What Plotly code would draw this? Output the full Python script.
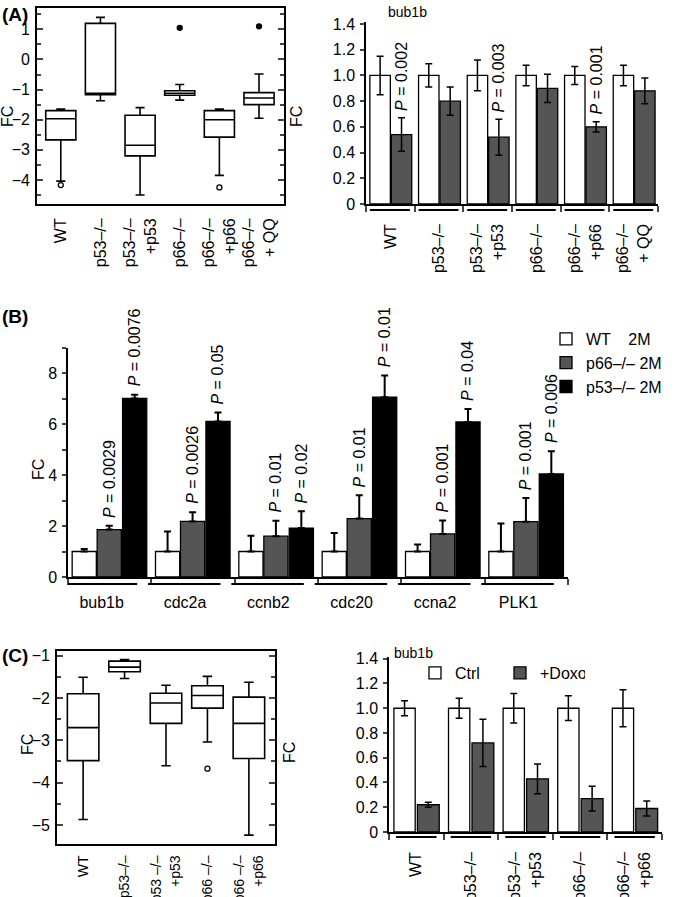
import plotly.graph_objects as go

W, H = 675, 897
FONT = "Liberation Sans, Arial, Helvetica, sans-serif"
D = "\u2013"
DG = "#555555"

# ---------------- Panel A (left): box plot ----------------
a_box_labels = ["WT", f"p53{D}/{D}", f"p53{D}/{D}<br>+p53", f"p66{D}/{D}",
                f"p66{D}/{D}<br>+p66", f"p66{D}/{D}<br>+ QQ"]
a_box_upper = [-1.65, 1.40, -1.60, -0.83, -1.65, -0.48]
a_box_q3 = [-1.70, 1.20, -1.85, -1.04, -1.70, -1.10]
a_box_median = [-1.97, -1.12, -2.85, -1.12, -2.00, -1.28]
a_box_q1 = [-2.67, -1.17, -3.20, -1.19, -2.58, -1.50]
a_box_lower = [-4.04, -1.37, -4.50, -1.35, -3.85, -1.95]
a_out_x = [0, 3, 4, 5]
a_out_y = [-4.17, 1.05, -4.25, 1.10]
a_out_symbol = ["circle-open", "circle", "circle-open", "circle"]

# ---------------- Panel A (right): bub1b bars ----------------
a_bar_labels = ["WT", f"p53{D}/{D}", f"p53{D}/{D}<br>+p53", f"p66{D}/{D}",
                f"p66{D}/{D}<br>+p66", f"p66{D}/{D}<br>+ QQ"]
a_ctrl = [1.0, 1.0, 1.0, 1.0, 1.0, 1.0]
a_ctrl_err = [0.15, 0.09, 0.12, 0.08, 0.07, 0.08]
a_treat = [0.54, 0.80, 0.52, 0.90, 0.60, 0.88]
a_treat_err = [0.13, 0.11, 0.14, 0.11, 0.04, 0.10]
a_pvals = ["0.002", None, "0.003", None, "0.001", None]

# ---------------- Panel B ----------------
b_genes = ["bub1b", "cdc2a", "ccnb2", "cdc20", "ccna2", "PLK1"]
b_series = ["WT    2M", f"p66{D}/{D} 2M", f"p53{D}/{D} 2M"]
b_wt = [1.0, 1.0, 1.0, 1.0, 1.0, 1.0]
b_wt_err = [0.10, 0.78, 0.62, 0.73, 0.27, 1.10]
b_p66 = [1.86, 2.18, 1.60, 2.29, 1.69, 2.17]
b_p66_err = [0.15, 0.36, 0.61, 0.92, 0.53, 0.93]
b_p53 = [7.00, 6.10, 1.92, 7.05, 6.08, 4.04]
b_p53_err = [0.15, 0.35, 0.66, 0.85, 0.51, 0.89]
b_p66_p = ["0.0029", "0.0026", "0.01", "0.01", "0.001", "0.001"]
b_p53_p = ["0.0076", "0.05", "0.02", "0.01", "0.04", "0.006"]

# ---------------- Panel C (left): box plot ----------------
c_box_labels = ["WT", f"p53{D}/{D}", f"p53 {D}/{D}<br>+p53", f"p66 {D}/{D}",
                f"p66 {D}/{D}<br>+p66"]
c_box_upper = [-1.51, -1.09, -1.70, -1.49, -1.63]
c_box_q3 = [-1.90, -1.13, -1.89, -1.71, -1.98]
c_box_median = [-2.70, -1.27, -2.12, -1.94, -2.60]
c_box_q1 = [-3.48, -1.38, -2.60, -2.24, -3.43]
c_box_lower = [-4.87, -1.54, -3.60, -3.04, -5.24]
c_out_x = [3]
c_out_y = [-3.67]

# ---------------- Panel C (right): bub1b Ctrl / +Doxo ----------------
c_bar_labels = ["WT", f"p53{D}/{D}", f"p53{D}/{D}<br>+p53", f"p66{D}/{D}",
                f"p66{D}/{D}<br>+p66"]
c_series = ["Ctrl", "+Doxo"]
c_ctrl = [1.0, 1.0, 1.0, 1.0, 1.0]
c_ctrl_err = [0.06, 0.08, 0.12, 0.10, 0.15]
c_doxo = [0.22, 0.72, 0.43, 0.27, 0.19]
c_doxo_err = [0.02, 0.19, 0.12, 0.10, 0.06]


def px_x(p):
    return p / W


def px_y(p):
    return 1 - p / H


fig = go.Figure()

# ---- A left boxes ----
fig.add_trace(go.Box(
    x=list(range(len(a_box_labels))), q1=a_box_q1, median=a_box_median, q3=a_box_q3,
    lowerfence=a_box_lower, upperfence=a_box_upper, width=0.76, whiskerwidth=0.3,
    fillcolor="white", line=dict(color="black", width=1.6), boxpoints=False,
    xaxis="x", yaxis="y", showlegend=False, hoverinfo="skip"))
fig.add_trace(go.Scatter(
    x=a_out_x, y=a_out_y, mode="markers",
    marker=dict(symbol=a_out_symbol, size=5, color="black", line=dict(color="black", width=1.3)),
    xaxis="x", yaxis="y", showlegend=False, hoverinfo="skip"))

# ---- A right bars ----
A_W0, A_O0, A_W1, A_O1 = 0.42, -0.42, 0.42, 0.02
err_style = dict(type="data", color="black", thickness=1.5, width=3.5)
fig.add_trace(go.Bar(
    x=list(range(6)), y=a_ctrl, width=A_W0, offset=A_O0,
    marker=dict(color="white", line=dict(color="black", width=1.3)),
    error_y=dict(array=a_ctrl_err, **err_style),
    xaxis="x2", yaxis="y2", showlegend=False, hoverinfo="skip"))
fig.add_trace(go.Bar(
    x=list(range(6)), y=a_treat, width=A_W1, offset=A_O1,
    marker=dict(color=DG, line=dict(color="black", width=1.3)),
    error_y=dict(array=a_treat_err, **err_style),
    xaxis="x2", yaxis="y2", showlegend=False, hoverinfo="skip"))

# ---- B bars ----
B_W = 0.29
B_OFF = [-0.45, -0.15, 0.155]
b_fill = ["white", DG, "black"]
for k, (vals, errs) in enumerate([(b_wt, b_wt_err), (b_p66, b_p66_err), (b_p53, b_p53_err)]):
    fig.add_trace(go.Bar(
        x=list(range(6)), y=vals, width=B_W, offset=B_OFF[k], name=b_series[k],
        marker=dict(color=b_fill[k], line=dict(color="black", width=1.3)),
        error_y=dict(type="data", symmetric=False, array=errs, arrayminus=[0] * 6,
                     color="black", thickness=2, width=3.5),
        xaxis="x3", yaxis="y3", legend="legend", showlegend=True, hoverinfo="skip"))

# ---- C left boxes ----
fig.add_trace(go.Box(
    x=list(range(len(c_box_labels))), q1=c_box_q1, median=c_box_median, q3=c_box_q3,
    lowerfence=c_box_lower, upperfence=c_box_upper, width=0.76, whiskerwidth=0.3,
    fillcolor="white", line=dict(color="black", width=1.6), boxpoints=False,
    xaxis="x4", yaxis="y4", showlegend=False, hoverinfo="skip"))
fig.add_trace(go.Scatter(
    x=c_out_x, y=c_out_y, mode="markers",
    marker=dict(symbol="circle-open", size=5, color="black", line=dict(color="black", width=1.3)),
    xaxis="x4", yaxis="y4", showlegend=False, hoverinfo="skip"))

# ---- C right bars ----
C_W0, C_O0, C_W1, C_O1 = 0.39, -0.41, 0.40, 0.02
fig.add_trace(go.Bar(
    x=list(range(5)), y=c_ctrl, width=C_W0, offset=C_O0, name=c_series[0],
    marker=dict(color="white", line=dict(color="black", width=1.3)),
    error_y=dict(array=c_ctrl_err, **err_style),
    xaxis="x5", yaxis="y5", legend="legend2", showlegend=True, hoverinfo="skip"))
fig.add_trace(go.Bar(
    x=list(range(5)), y=c_doxo, width=C_W1, offset=C_O1, name=c_series[1],
    marker=dict(color=DG, line=dict(color="black", width=1.3)),
    error_y=dict(array=c_doxo_err, **err_style),
    xaxis="x5", yaxis="y5", legend="legend2", showlegend=True, hoverinfo="skip"))

tickfont = dict(family=FONT, size=16, color="black")

def box_y(anchor, dom, rng, vals, minors):
    return dict(anchor=anchor, domain=dom, range=rng, tickvals=vals, ticks="inside", ticklen=6,
                tickwidth=1.5, mirror="allticks", showline=True, linecolor="black", linewidth=1.8,
                minor=dict(tickvals=minors, ticks="inside", ticklen=4, tickwidth=1.5),
                showgrid=False, zeroline=False, tickfont=tickfont, ticklabelstandoff=2,
                automargin=False)

def box_x(anchor, dom, rng, labels, size=16, standoff=6):
    return dict(anchor=anchor, domain=dom, range=rng, tickvals=list(range(len(labels))),
                ticktext=labels, tickangle=-90, showline=True, mirror=True, linecolor="black",
                linewidth=1.8, ticks="", showgrid=False, zeroline=False,
                tickfont=dict(family=FONT, size=size, color="black"),
                ticklabelstandoff=standoff, automargin=False)

def bar_y(anchor, dom, rng, vals, text, minor=None):
    d = dict(anchor=anchor, domain=dom, range=rng, tickvals=vals, ticktext=text, ticks="outside",
             ticklen=4, tickwidth=1.5, showline=True, linecolor="black", linewidth=1.5,
             showgrid=False, zeroline=False, tickfont=tickfont, ticklabelstandoff=2,
             automargin=False)
    if minor:
        d["minor"] = dict(tickvals=minor, ticks="outside", ticklen=4, tickwidth=1.5)
    return d

def bar_x(anchor, dom, n, labels, angle, standoff, shift=0):
    return dict(anchor=anchor, domain=dom, range=[-0.5, n - 0.5], tickvals=list(range(n)),
                ticktext=labels, tickangle=angle, ticks="", showline=True, linecolor="black",
                linewidth=1.5,
                minor=dict(tickvals=[i - 0.5 for i in range(n + 1)], ticks="outside",
                           ticklen=6, tickwidth=1.5),
                showgrid=False, zeroline=False, tickfont=tickfont,
                ticklabelstandoff=standoff, ticklabelshift=shift, automargin=False)

fine_vals = [0, 0.2, 0.4, 0.6, 0.8, 1.0, 1.2, 1.4]
fine_text = ["0", "0.2", "0.4", "0.6", "0.8", "1.0", "1.2", "1.4"]

layout = dict(
    width=W, height=H, margin=dict(l=0, r=0, t=0, b=0, autoexpand=False),
    paper_bgcolor="white", plot_bgcolor="white", barmode="overlay",
    font=dict(family=FONT, size=16, color="black"),
    xaxis=box_x("y", [px_x(37), px_x(284)], [-0.6, 5.63], a_box_labels),
    yaxis=box_y("x", [px_y(204), px_y(8.3)], [-4.8, 1.7], [-4, -3, -2, -1, 0, 1],
                [-4.5, -3.5, -2.5, -1.5, -0.5, 0.5, 1.5]),
    xaxis2=bar_x("y2", [px_x(366), px_x(658)], 6, a_bar_labels, -90, 12),
    yaxis2=bar_y("x2", [px_y(204), px_y(21.7)], [0, 1.418], fine_vals, fine_text),
    xaxis3=bar_x("y3", [px_x(68), px_x(568)], 6, b_genes, 0, 10, -8),
    yaxis3=bar_y("x3", [px_y(577), px_y(347.5)], [0, 9], [0, 2, 4, 6, 8],
                 ["0", "2", "4", "6", "8"], minor=[1, 3, 5, 7, 9]),
    xaxis4=box_x("y4", [px_x(57), px_x(275)], [-0.63, 4.63], c_box_labels, size=14, standoff=4),
    yaxis4=box_y("x4", [px_y(844), px_y(651)], [-5.45, -0.89], [-5, -4, -3, -2, -1],
                 [-5.5, -4.5, -3.5, -2.5, -1.5]),
    xaxis5=bar_x("y5", [px_x(389), px_x(662)], 5, c_bar_labels, -90, 12),
    yaxis5=bar_y("x5", [px_y(832), px_y(656.5)], [0, 1.418], fine_vals, fine_text),
    legend=dict(x=px_x(546), y=px_y(322), xanchor="left", yanchor="top",
                font=dict(family=FONT, size=16, color="black"), itemwidth=30, tracegroupgap=0,
                bgcolor="rgba(0,0,0,0)", traceorder="normal"),
    legend2=dict(x=px_x(415), y=px_y(656), xanchor="left", yanchor="top",
                 orientation="h", font=dict(family=FONT, size=16, color="black"), itemwidth=30,
                 entrywidth=40, bgcolor="rgba(0,0,0,0)"),
)
fig.update_layout(**layout)

ann = []
shapes = []
afont = dict(family=FONT, size=16, color="black")

def ptxt(v):
    return f"<i>P</i> = {v}"

# A right P values
for i, p in enumerate(a_pvals):
    if p:
        ann.append(dict(x=i + A_O1 + A_W1 / 2, y=a_treat[i] + a_treat_err[i], xref="x2", yref="y2",
                        text=ptxt(p), textangle=-90, xanchor="center", yanchor="bottom",
                        yshift=5, showarrow=False, font=afont))
# B P values
for i in range(6):
    ann.append(dict(x=i + B_OFF[1] + B_W / 2, y=b_p66[i] + b_p66_err[i], xref="x3", yref="y3",
                    text=ptxt(b_p66_p[i]), textangle=-90, xanchor="center", yanchor="bottom",
                    yshift=6, showarrow=False, font=afont))
    ann.append(dict(x=i + B_OFF[2] + B_W / 2, y=b_p53[i] + b_p53_err[i], xref="x3", yref="y3",
                    text=ptxt(b_p53_p[i]), textangle=-90, xanchor="center", yanchor="bottom",
                    yshift=6, showarrow=False, font=afont))

# group brackets under bar axes
for i in range(6):
    shapes.append(dict(type="line", xref="x2", yref="paper", x0=i - 0.42, x1=i + 0.40,
                       y0=px_y(210), y1=px_y(210), line=dict(color="black", width=2)))
    shapes.append(dict(type="line", xref="x3", yref="paper", x0=i - 0.54, x1=i + 0.33,
                       y0=px_y(584), y1=px_y(584), line=dict(color="black", width=2)))
for i in range(5):
    shapes.append(dict(type="line", xref="x5", yref="paper", x0=i - 0.37, x1=i + 0.37,
                       y0=px_y(837), y1=px_y(837), line=dict(color="black", width=2)))

bfont = dict(family=FONT, size=19, color="black")
sfont = dict(family=FONT, size=14, color="black")

def lab(xp, yp, text, font, angle=0, xanchor="center"):
    return dict(x=px_x(xp), y=px_y(yp), xref="paper", yref="paper", text=text,
                textangle=angle, xanchor=xanchor, yanchor="middle", showarrow=False, font=font)

ann += [
    lab(0, 14, "<b>(A)</b>", bfont, xanchor="left"),
    lab(0, 316, "<b>(B)</b>", bfont, xanchor="left"),
    lab(0, 655, "<b>(C)</b>", bfont, xanchor="left"),
    lab(7, 117, "FC", afont, -90),
    lab(296, 117, "FC", afont, -90),
    lab(38, 470, "FC", afont, -90),
    lab(27, 745, "FC", afont, -90),
    lab(289, 753, "FC", afont, -90),
    lab(407, 12, "bub1b", sfont),
    lab(392, 653, "bub1b", sfont, xanchor="left"),
]
fig.update_layout(annotations=ann, shapes=shapes)

fig.write_html("out.html", config={"displayModeBar": False},
               post_script="document.body.style.margin='0';document.body.style.overflow='hidden';")
